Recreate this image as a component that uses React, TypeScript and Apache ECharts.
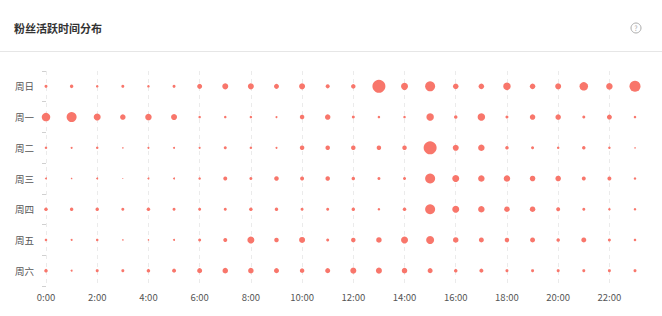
import React, { useEffect, useRef } from "react";
import * as echarts from "echarts";

const hours = [
  "0:00", "1:00", "2:00", "3:00", "4:00", "5:00", "6:00", "7:00", "8:00", "9:00", "10:00", "11:00",
  "12:00", "13:00", "14:00", "15:00", "16:00", "17:00", "18:00", "19:00", "20:00", "21:00", "22:00", "23:00",
];
const days = ["周日", "周一", "周二", "周三", "周四", "周五", "周六"];

// activity level per hour (0:00 .. 23:00) for each day
const sunday = [3, 3.5, 2.5, 3, 2.5, 3, 5, 6, 6, 5, 6, 4, 4.5, 13, 7, 10, 5.5, 5.5, 7.5, 5.5, 6, 8.5, 6.5, 11];
const monday = [8.5, 10, 7, 5.5, 6.5, 6, 2.5, 2.5, 2.5, 2, 4.5, 5.5, 3, 2.5, 2.5, 7.5, 3.5, 7.5, 3, 5.5, 5.5, 3, 5, 2.5];
const tuesday = [2.5, 2, 2.5, 1.5, 2, 2, 2, 3, 2.5, 2, 4.5, 4.5, 4.5, 4.5, 4.5, 13, 6, 6.5, 3.5, 3, 2.5, 3.5, 2.5, 1.5];
const wednesday = [2, 1.5, 2, 1, 2, 2, 2.5, 4, 3, 4.5, 4, 4.5, 3.5, 3, 3, 10, 7, 6.5, 6.5, 5.5, 5.5, 4, 4, 2.5];
const thursday = [3.5, 3.5, 3.5, 3, 3.5, 3, 3, 3, 3.5, 3.5, 3, 3, 3.5, 2.5, 3.5, 10, 7, 6.5, 5.5, 5.5, 4, 3, 2.5, 2.5];
const friday = [2.5, 2, 2.5, 1.5, 1.5, 2, 3, 4, 7, 4.5, 6, 3, 4.5, 5.5, 7, 8, 5.5, 5, 4.5, 5, 3.5, 5, 3, 2.5];
const saturday = [3.5, 2, 3, 3, 3.5, 4, 5, 5.5, 5.5, 5, 4.5, 5, 6, 6, 5.5, 5, 3.5, 4, 3, 3, 3, 3, 3, 3];

const rows = [sunday, monday, tuesday, wednesday, thursday, friday, saturday];

export default function App() {
  const ref = useRef<HTMLDivElement>(null);

  useEffect(() => {
    if (!ref.current) return;
    const chart = echarts.init(ref.current, null, { renderer: "svg" });
    const data: number[][] = [];
    rows.forEach((row, d) => row.forEach((v, h) => data.push([h, d, v])));
    const font = '"Noto Sans CJK SC", "Noto Sans", sans-serif';
    chart.setOption({
      animation: false,
      textStyle: { fontFamily: font },
      title: {
        text: "粉丝活跃时间分布",
        left: 9,
        top: 17,
        textStyle: { fontSize: 11, fontWeight: "bold", color: "#333", fontFamily: font },
      },
      graphic: [
        {
          type: "line",
          shape: { x1: 0, y1: 51.5, x2: 662, y2: 51.5 },
          style: { stroke: "#e6e6e6", lineWidth: 1 },
        },
        {
          type: "circle",
          shape: { cx: 636, cy: 28, r: 5 },
          style: { fill: "none", stroke: "#aaa", lineWidth: 1 },
        },
        {
          type: "text",
          x: 636,
          y: 28,
          style: {
            text: "?",
            fontSize: 7,
            fill: "#aaa",
            align: "center",
            verticalAlign: "middle",
            fontFamily: font,
          },
        },
      ],
      grid: { left: 46, right: 27, top: 71, bottom: 30 },
      xAxis: {
        type: "category",
        data: hours,
        boundaryGap: false,
        axisLine: { show: false },
        axisTick: { show: false },
        axisLabel: { interval: 1, margin: 6, fontSize: 9.5, color: "#555", fontFamily: font },
        splitLine: { show: true, interval: 1, lineStyle: { type: [4, 4], color: "#ebebeb" } },
      },
      yAxis: {
        type: "category",
        data: days,
        inverse: true,
        axisLine: { show: false },
        axisTick: { show: true, length: 4, lineStyle: { color: "#d0d0d0" } },
        axisLabel: { margin: 12, fontSize: 9.5, color: "#555", fontFamily: font },
        splitLine: { show: false },
      },
      series: [
        {
          type: "scatter",
          data,
          symbolSize: (v: number[]) => v[2],
          itemStyle: { color: "#f8766b", opacity: 1 },
        },
      ],
    });
    return () => chart.dispose();
  }, []);

  return (
    <div
      ref={ref}
      style={{ position: "fixed", left: 0, top: 0, width: 662, height: 316, background: "#fff" }}
    />
  );
}
